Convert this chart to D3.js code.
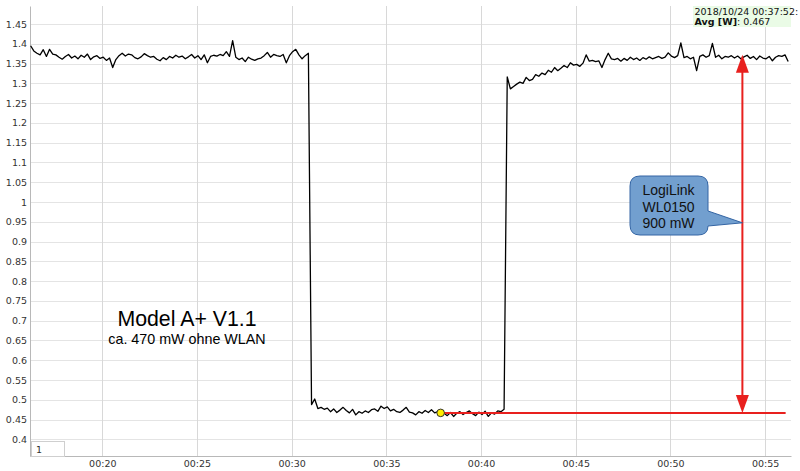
<!DOCTYPE html>
<html><head><meta charset="utf-8">
<script src="https://cdn.jsdelivr.net/npm/d3@7"></script>
<style>body{margin:0;background:#fff}svg{display:block}</style>
</head><body>
<svg id="c" width="800" height="471"></svg>
<script>
// ---- data ----
const startTime = "2018-10-24T00:16:13";
const stepSeconds = 10;
const powerHigh1 = [1.395,1.382,1.376,1.372,1.385,1.368,1.386,1.374,1.372,1.366,
1.361,1.368,1.373,1.364,1.369,1.362,1.371,1.366,1.374,1.360,
1.367,1.370,1.363,1.366,1.358,1.364,1.340,1.360,1.370,1.376,
1.369,1.374,1.372,1.365,1.362,1.367,1.375,1.370,1.366,1.368,
1.361,1.357,1.365,1.360,1.368,1.364,1.371,1.366,1.369,1.362,
1.367,1.373,1.364,1.370,1.360,1.372,1.352,1.368,1.371,1.369,
1.373,1.370,1.380,1.368,1.408,1.366,1.360,1.364,1.355,1.366,
1.361,1.358,1.362,1.364,1.370,1.378,1.366,1.373,1.370,1.368,
1.373,1.352,1.370,1.380,1.386,1.372,1.362,1.370,1.376];
const powerLow = [0.488,0.502,0.478,0.481,0.476,0.479,0.470,0.477,0.468,0.474,
0.481,0.473,0.467,0.476,0.462,0.470,0.466,0.472,0.468,0.475,
0.477,0.471,0.484,0.478,0.482,0.472,0.476,0.470,0.468,0.474,
0.481,0.469,0.467,0.462,0.470,0.466,0.473,0.468,0.475,0.467,
0.470,0.467,0.466,0.460,0.468,0.458,0.466,0.470,0.463,0.468,
0.472,0.465,0.460,0.469,0.463,0.471,0.458,0.467,0.464,0.472,
0.470,0.476];
const powerHigh2 = [1.316,1.286,1.292,1.298,1.303,1.300,1.315,1.307,1.310,1.322,
1.318,1.326,1.322,1.333,1.328,1.340,1.332,1.338,1.345,1.340,
1.352,1.346,1.348,1.343,1.351,1.372,1.356,1.358,1.355,1.357,
1.340,1.360,1.376,1.362,1.360,1.363,1.356,1.363,1.358,1.366,
1.360,1.364,1.358,1.365,1.361,1.367,1.362,1.365,1.368,1.363,
1.366,1.377,1.369,1.365,1.370,1.402,1.365,1.368,1.362,1.366,
1.332,1.368,1.372,1.366,1.370,1.401,1.366,1.371,1.362,1.368,
1.366,1.370,1.364,1.369,1.362,1.367,1.371,1.363,1.368,1.360,
1.369,1.364,1.362,1.368,1.357,1.366,1.370,1.368,1.372,1.355];
const yTicks = [0.4,0.45,0.5,0.55,0.6,0.65,0.7,0.75,0.8,0.85,0.9,0.95,1,1.05,1.1,1.15,1.2,1.25,1.3,1.35,1.4,1.45];
const xTickLabels = ["00:20","00:25","00:30","00:35","00:40","00:45","00:50","00:55"];
const legendDate = "2018/10/24 00:37:52:";
const legendLabel = "Avg [W]";
const legendValue = 0.467;
const markerTime = "2018-10-24T00:37:52";
const lineEndTime = "2018-10-24T00:56:05";
const arrowTime = "2018-10-24T00:53:48";
const arrowTop = 1.372;
const calloutLines = ["LogiLink","WL0150","900 mW"];
const modelTitle = "Model A+ V1.1";
const modelSub = "ca. 470 mW ohne WLAN";

// ---- build series ----
const values = powerHigh1.concat(powerLow, powerHigh2);
const t0 = new Date(startTime);
const data = values.map((v,i)=>({t:new Date(t0.getTime()+i*stepSeconds*1000), v}));

const svg = d3.select("#c");
const L=30, R=791, T=6, B=456;
const x = d3.scaleTime()
  .domain([new Date("2018-10-24T00:16:11"), new Date("2018-10-24T00:56:22")])
  .range([L,R]);
const y = d3.scaleLinear().domain([0.358,1.4955]).range([B,T]);

const xTicks = xTickLabels.map(s=>new Date("2018-10-24T"+s+":00"));

// grid
svg.append("g").selectAll("line").data(yTicks).join("line")
  .attr("x1",L).attr("x2",R).attr("y1",d=>Math.round(y(d))+0.5).attr("y2",d=>Math.round(y(d))+0.5)
  .attr("stroke","#e4e4e4").attr("stroke-width",1);
svg.append("g").selectAll("line").data(xTicks).join("line")
  .attr("x1",d=>Math.round(x(d))+0.5).attr("x2",d=>Math.round(x(d))+0.5).attr("y1",T).attr("y2",B)
  .attr("stroke","#d8d8d8").attr("stroke-width",1);

// axes
const yAxis = d3.axisLeft(y).tickValues(yTicks).tickSize(0).tickPadding(3).tickFormat(d3.format("~g"));
const gy = svg.append("g").attr("transform",`translate(${L},0)`).call(yAxis);
const xAxis = d3.axisBottom(x).tickValues(xTicks).tickSize(0).tickPadding(4).tickFormat((d,i)=>xTickLabels[i]);
const gx = svg.append("g").attr("transform",`translate(0,${B})`).call(xAxis);
[gy,gx].forEach(g=>{
  g.select(".domain").attr("stroke","#b8b8b8");
  g.selectAll("text").attr("fill","#333").style("font-family","DejaVu Sans, sans-serif").style("font-size","9.5px");
});

// series line
svg.append("path").datum(data)
  .attr("fill","none").attr("stroke","#000").attr("stroke-width",1.3)
  .attr("stroke-linejoin","round")
  .attr("d",d3.line().x(d=>x(d.t)).y(d=>y(d.v)));

// red annotations
const red="#e8201e";
const mx = x(new Date(markerTime)), my = y(legendValue);
svg.append("line").attr("x1",mx).attr("x2",x(new Date(lineEndTime))).attr("y1",my).attr("y2",my)
  .attr("stroke",red).attr("stroke-width",2);
const ax = x(new Date(arrowTime)), ayTop = y(arrowTop), ayBot = y(legendValue);
svg.append("line").attr("x1",ax).attr("x2",ax).attr("y1",ayTop+10).attr("y2",ayBot-10)
  .attr("stroke",red).attr("stroke-width",2);
svg.append("path").attr("fill",red)
  .attr("d",`M${ax},${ayTop} L${ax-6.5},${ayTop+18} L${ax+6.5},${ayTop+18} Z`);
svg.append("path").attr("fill",red)
  .attr("d",`M${ax},${ayBot} L${ax-6.5},${ayBot-18} L${ax+6.5},${ayBot-18} Z`);

// marker dot
svg.append("circle").attr("cx",mx).attr("cy",my).attr("r",3.8)
  .attr("fill","#ffee00").attr("stroke","#333").attr("stroke-width",1);

// callout
const bx=630, by=176, bw=78, bh=59, rr=10;
const tipY = y(0.95)+1;
svg.append("path")
  .attr("d",`M${bx+rr},${by} H${bx+bw-rr} Q${bx+bw},${by} ${bx+bw},${by+rr} V${by+35} L${ax},${tipY} L${bx+bw},${by+50} Q${bx+bw},${by+bh} ${bx+bw-rr},${by+bh} H${bx+rr} Q${bx},${by+bh} ${bx},${by+bh-rr} V${by+rr} Q${bx},${by} ${bx+rr},${by} Z`)
  .attr("fill","#729fcf").attr("stroke","#3465a4").attr("stroke-width",1);
svg.append("g").selectAll("text").data(calloutLines).join("text")
  .attr("x",bx+bw/2-0.5).attr("y",(d,i)=>195+i*16.5).attr("text-anchor","middle")
  .style("font-family","Liberation Sans, Arial, sans-serif").style("font-size","14px").attr("fill","#111")
  .text(d=>d);

// model text
svg.append("text").attr("x",187).attr("y",326).attr("text-anchor","middle")
  .style("font-family","Liberation Sans, Arial, sans-serif").style("font-size","21.3px").attr("fill","#000").text(modelTitle);
svg.append("text").attr("x",187).attr("y",344).attr("text-anchor","middle")
  .style("font-family","Liberation Sans, Arial, sans-serif").style("font-size","14.3px").attr("fill","#000").text(modelSub);

// legend
svg.append("rect").attr("x",693).attr("y",6).attr("width",98).attr("height",21).attr("fill","#eafbe6");
const lg = svg.append("g").style("font-family","DejaVu Sans, sans-serif").style("font-size","9.5px").attr("fill","#111");
lg.append("text").attr("x",694.5).attr("y",15).text(legendDate);
const t2 = lg.append("text").attr("x",694.5).attr("y",25);
t2.append("tspan").style("font-weight","bold").text(legendLabel);
t2.append("tspan").text(": "+legendValue);

// roller box
svg.append("rect").attr("x",31.5).attr("y",441.5).attr("width",33).attr("height",15)
  .attr("fill","#fff").attr("stroke","#cfcfcf");
svg.append("text").attr("x",36).attr("y",453).text("1")
  .style("font-family","DejaVu Sans, sans-serif").style("font-size","9.5px").attr("fill","#333");
</script>
</body></html>
